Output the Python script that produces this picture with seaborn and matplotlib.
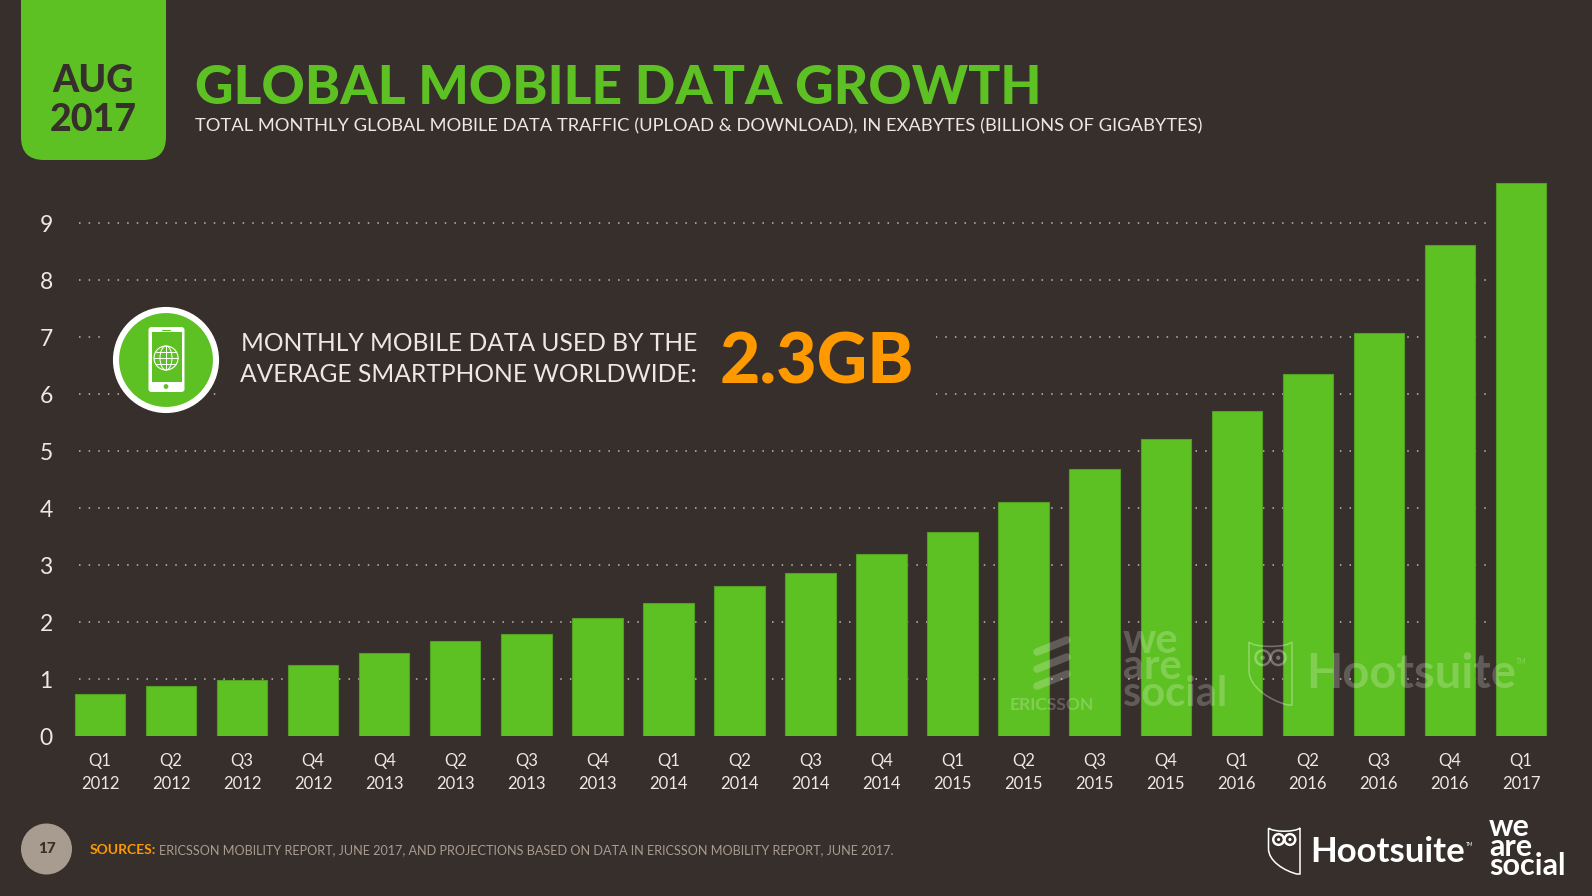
import matplotlib
matplotlib.use("Agg")
import matplotlib.pyplot as plt
import seaborn as sns
import pandas as pd
from matplotlib.patches import Circle, FancyBboxPatch, Rectangle, PathPatch, Ellipse
from matplotlib.path import Path

quarters = ["Q1","Q2","Q3","Q4","Q4","Q2","Q3","Q4","Q1","Q2","Q3","Q4","Q1","Q2","Q3","Q4","Q1","Q2","Q3","Q4","Q1"]
years = ["2012","2012","2012","2012","2013","2013","2013","2013","2014","2014","2014","2014","2015","2015","2015","2015","2016","2016","2016","2016","2017"]
traffic = [0.74,0.87,0.99,1.24,1.46,1.67,1.79,2.07,2.33,2.63,2.87,3.19,3.58,4.11,4.68,5.21,5.71,6.36,7.07,8.62,9.71]
y_ticks = [0,1,2,3,4,5,6,7,8,9]

BG = "#372f2b"; GREEN = "#5ec123"; ORANGE = "#ff9900"; TAUPE = "#a89b90"; LIGHT = "#ece8e3"
W, H = 1592, 896
SANS = "Lato"

sns.set_theme(style="dark")
plt.rcParams["font.family"] = [SANS, "DejaVu Sans"]
fig = plt.figure(figsize=(W/100, H/100), dpi=100, facecolor=BG)
ax = fig.add_axes([64.5/W, (H-736)/H, 1492/W, 586/H], facecolor=BG)
labels = [f"{q}\n{y}" for q, y in zip(quarters, years)]
df = pd.DataFrame({"slot": range(len(traffic)), "value": traffic})

ax.hlines(y_ticks[1:], -0.296, 19.52, colors="#c3b9b0", linewidth=1.1, linestyles=[(0, (1, 5.3))], zorder=1)
sns.barplot(data=df, x="slot", y="value", color=GREEN, saturation=1, width=0.71,
            edgecolor="#539f22", linewidth=0.8, ax=ax, zorder=2)
ax.set_xlim(-0.5, 20.5)
ax.set_ylim(0, 10.29)
ax.set_xlabel(""); ax.set_ylabel("")
ax.set_xticks(range(len(labels)))
ax.set_xticklabels(labels, linespacing=1.48)
ax.set_yticks(y_ticks)
ax.tick_params(axis="y", length=0, pad=13.3, labelsize=16.5, labelcolor=LIGHT)
ax.tick_params(axis="x", length=0, pad=12.5, labelsize=12, labelcolor=LIGHT)
for t in ax.get_yticklabels():
    t.set_ha("center")
    t.set_y(t.get_position()[1])
for s in ax.spines.values():
    s.set_visible(False)
ax.grid(False)

ov = fig.add_axes([0, 0, 1, 1], facecolor="none", zorder=5)
ov.set_xlim(0, W); ov.set_ylim(H, 0); ov.axis("off")

# gridline gap around the callout
ov.add_patch(Rectangle((103, 330), 833, 12, fc=BG, ec="none"))
ov.add_patch(Rectangle((222, 388), 714, 12, fc=BG, ec="none"))

# date badge
ov.add_patch(FancyBboxPatch((21, -40), 145, 200, boxstyle="round,pad=0,rounding_size=23", fc=GREEN, ec="none"))
ov.text(93, 92, "AUG", ha="center", va="baseline", fontsize=27, fontweight="black", color=BG)
ov.text(93, 131, "2017", ha="center", va="baseline", fontsize=27, fontweight="black", color=BG)

ov.text(195, 104.5, "GLOBAL MOBILE DATA GROWTH", fontsize=38.4, fontweight="black", color=GREEN, va="baseline")
ov.text(195, 131, "TOTAL MONTHLY GLOBAL MOBILE DATA TRAFFIC (UPLOAD & DOWNLOAD), IN EXABYTES (BILLIONS OF GIGABYTES)",
        fontsize=13.25, color=LIGHT, va="baseline")

# callout
ov.add_patch(Circle((166, 360), 50, fc=GREEN, ec="white", lw=4.4))
ov.add_patch(FancyBboxPatch((148.5, 327), 36, 65, boxstyle="round,pad=0,rounding_size=3", fc="white", ec="none"))
ov.add_patch(Rectangle((151.5, 332.5), 30, 49.5, fc=GREEN, ec="none"))
ov.add_patch(Circle((166, 386.5), 2.4, fc=GREEN, ec="none"))
ov.plot([162, 170], [330, 330], color=GREEN, lw=0.8)
ov.add_patch(Circle((166, 358), 12, fc="none", ec="white", lw=0.8))
ov.add_patch(Ellipse((166, 358), 12, 24, fc="none", ec="white", lw=0.7))
ov.plot([166, 166], [346, 370], color="white", lw=0.7)
for yy, half in [(358, 12), (352, 10.4), (364, 10.4)]:
    ov.plot([166-half, 166+half], [yy, yy], color="white", lw=0.7)

ov.text(697, 351, "MONTHLY MOBILE DATA USED BY THE", ha="right", va="baseline", fontsize=17.7, color=LIGHT)
ov.text(697, 382, "AVERAGE SMARTPHONE WORLDWIDE:", ha="right", va="baseline", fontsize=17.7, color=LIGHT)
ov.text(720, 383, "2.3GB", va="baseline", fontsize=50.2, fontweight="black", color=ORANGE)

# footer
ov.add_patch(Circle((46.5, 849), 25.5, fc=TAUPE, ec="none"))
ov.text(46.5, 849, "17", ha="center", va="center", fontsize=11, fontweight="black", color=BG)
ov.text(90, 854, "SOURCES:", fontsize=10, fontweight="bold", color=ORANGE, va="baseline")
ov.text(159, 854, "ERICSSON MOBILITY REPORT, JUNE 2017, AND PROJECTIONS BASED ON DATA IN ERICSSON MOBILITY REPORT, JUNE 2017.",
        fontsize=9.06, color=TAUPE, va="baseline")

def owl(x, y, w, h, color, alpha, lw):
    def P(a, b):
        return (x + a*w, y + b*h)
    verts = [P(0,0), P(.12,.07), P(.5,.07), P(.88,.07), P(1,0), P(1,1), P(.9,1),
             P(.5,.93), P(0,.72), P(0,.45), P(0,0)]
    codes = [Path.MOVETO, Path.CURVE3, Path.LINETO, Path.CURVE3, Path.LINETO, Path.LINETO, Path.LINETO,
             Path.CURVE4, Path.CURVE4, Path.CURVE4, Path.LINETO]
    ov.add_patch(PathPatch(Path(verts, codes), fc="none", ec=color, lw=lw, alpha=alpha))
    for a in (.32, .68):
        ov.add_patch(Circle(P(a, .25), .17*w, fc="none", ec=color, lw=lw*1.6, alpha=alpha))
        ov.add_patch(Circle(P(a, .25), .05*w, fc=color, ec="none", alpha=alpha))

# logos, bottom right
owl(1268.5, 828, 31.5, 46, "white", 1, 1.1)
ov.text(1310, 862, "Hootsuite", fontsize=25, fontweight="bold", color="white", va="baseline")
ov.text(1466, 846, "TM", fontsize=3.5, color="white", va="baseline")
ov.text(1489, 875, "we\nare\nsocial", fontsize=22, fontweight="bold", color="white", va="baseline", linespacing=0.63)

# watermark logos
WM = 0.22
for dy in (0, 17, 34):
    ov.plot([1037, 1067], [655+dy-3, 643+dy-3], color="white", alpha=WM, lw=5.5, solid_capstyle="round")
ov.text(1010, 710, "ERICSSON", fontsize=12.6, fontweight="bold", color="white", alpha=WM, va="baseline")
ov.text(1123, 706, "we\nare\nsocial", fontsize=30, fontweight="bold", color="white", alpha=WM, va="baseline", linespacing=0.63)
owl(1249, 642, 43, 63, "white", WM+0.1, 1.1)
ov.text(1306, 688, "Hootsuite", fontsize=33.9, fontweight="bold", color="white", alpha=WM, va="baseline")
ov.text(1516, 664, "TM", fontsize=5, color="white", alpha=WM, va="baseline")

fig.savefig("out.png", dpi=100, facecolor=BG)
